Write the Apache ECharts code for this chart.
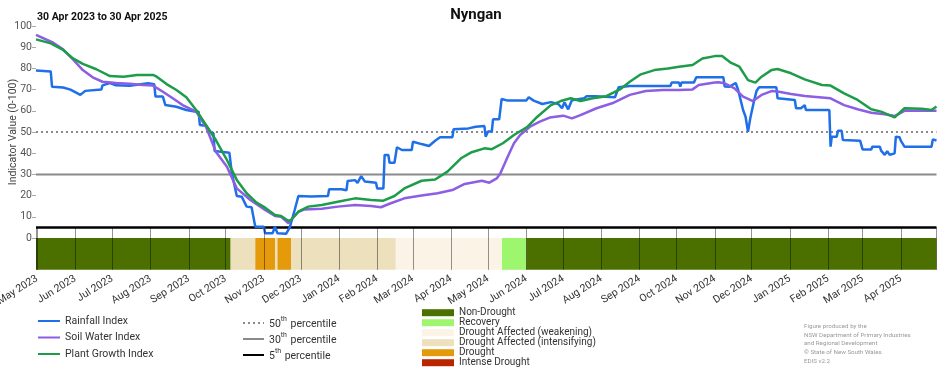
<!DOCTYPE html>
<html>
<head>
<meta charset="utf-8">
<script src="https://cdn.jsdelivr.net/npm/echarts@6/dist/echarts.min.js"></script>
<style>
html,body{margin:0;padding:0;background:#fff;}
#chart{width:952px;height:370px;}
</style>
</head>
<body>
<div id="chart"></div>
<script>
// ---------- DATA ----------
const startDate = '2023-04-30';
const endDate = '2025-04-30';
const titleText = 'Nyngan';
const subtitleText = '30 Apr 2023 to 30 Apr 2025';
const yAxisName = 'Indicator Value (0-100)';
const yTickLabels = [0, 10, 20, 30, 40, 50, 60, 70, 80, 90, 100];
const monthNames = ['Jan','Feb','Mar','Apr','May','Jun','Jul','Aug','Sep','Oct','Nov','Dec'];

const seriesNames = ['Rainfall Index', 'Soil Water Index', 'Plant Growth Index'];

const rainfall = [
  ['2023-04-30',79],['2023-05-12',78.5],['2023-05-13',71.4],['2023-05-22',71],['2023-05-28',70],
  ['2023-06-05',67.5],['2023-06-09',69.4],['2023-06-22',70],['2023-06-23',72],['2023-06-29',73.1],
  ['2023-07-04',72],['2023-07-15',71.8],['2023-07-30',73],['2023-08-04',72.5],['2023-08-05',66.7],
  ['2023-08-11',66.7],['2023-08-13',62.7],['2023-08-22',61.9],['2023-08-30',60.4],['2023-09-07',59.6],
  ['2023-09-09',59.6],['2023-09-10',53.3],['2023-09-15',53],['2023-09-19',49.7],['2023-09-21',49.5],
  ['2023-09-22',41],['2023-10-04',40.2],['2023-10-06',30.5],['2023-10-10',19.8],['2023-10-14',19.5],
  ['2023-10-18',14.8],['2023-10-22',14.5],['2023-10-25',5.3],['2023-11-01',5.3],['2023-11-02',2.2],
  ['2023-11-08',2.2],['2023-11-10',5.3],['2023-11-12',2.2],['2023-11-19',2],['2023-11-22',5],
  ['2023-11-26',13.2],['2023-11-29',19.8],['2023-12-09',19.6],['2023-12-23',19.8],['2023-12-24',23],
  ['2024-01-03',23],['2024-01-07',22.5],['2024-01-08',26.9],['2024-01-14',27.3],['2024-01-16',26],
  ['2024-01-19',29.2],['2024-01-22',26.6],['2024-01-31',26.1],['2024-02-01',23.4],['2024-02-06',23.4],
  ['2024-02-07',39.2],['2024-02-10',39.2],['2024-02-11',35.5],['2024-02-15',35.5],['2024-02-17',42.8],
  ['2024-02-21',41.5],['2024-02-29',41.5],['2024-03-01',45.4],['2024-03-08',44.3],['2024-03-14',43.4],
  ['2024-03-19',45.9],['2024-03-23',47.5],['2024-04-02',47.5],['2024-04-03',51.3],['2024-04-15',51.7],
  ['2024-04-21',52.5],['2024-04-28',52.8],['2024-04-29',47.8],['2024-05-01',50.2],['2024-05-04',50.2],
  ['2024-05-05',56],['2024-05-10',56],['2024-05-12',65.6],['2024-05-17',64.8],['2024-06-01',64.8],
  ['2024-06-03',66.4],['2024-06-07',64.8],['2024-06-14',63.2],['2024-06-21',64.1],['2024-06-27',63.2],
  ['2024-06-30',61.2],['2024-07-02',64],['2024-07-05',60.7],['2024-07-08',65],['2024-07-18',65.9],
  ['2024-07-20',66.9],['2024-07-27',66.9],['2024-07-28',66.4],['2024-08-12',66.4],['2024-08-15',71.1],
  ['2024-08-24',71.7],['2024-09-26',71.7],['2024-09-27',73.3],['2024-10-03',73.3],['2024-10-04',71.4],
  ['2024-10-05',73.3],['2024-10-15',73.3],['2024-10-17',75.8],['2024-11-08',75.8],['2024-11-09',71.5],
  ['2024-11-13',71.4],['2024-11-18',73.1],['2024-11-20',69.8],['2024-11-22',65.1],['2024-11-24',60.4],
  ['2024-11-26',57.2],['2024-11-28',50.1],['2024-11-30',57],['2024-12-03',65],['2024-12-05',69.5],
  ['2024-12-07',71.1],['2024-12-21',71.1],['2024-12-22',65.9],['2025-01-05',65.1],['2025-01-06',61.2],
  ['2025-01-10',61.2],['2025-01-13',62.7],['2025-01-14',60.4],['2025-02-02',60.4],['2025-02-03',43.1],
  ['2025-02-04',47.8],['2025-02-08',47.8],['2025-02-09',50.6],['2025-02-12',50.6],['2025-02-13',46.2],
  ['2025-02-27',45.9],['2025-03-01',41.8],['2025-03-08',41.8],['2025-03-09',43.1],['2025-03-15',43.1],
  ['2025-03-16',41.2],['2025-03-19',39.2],['2025-03-21',41],['2025-03-23',39.2],['2025-03-27',40],
  ['2025-03-28',47.8],['2025-03-31',47.5],['2025-04-01',45.9],['2025-04-04',43.1],['2025-04-26',43.1],
  ['2025-04-27',46.5],['2025-04-30',46]
];

const soilWater = [
  ['2023-04-30',95.8],['2023-05-14',92.1],['2023-05-22',89],['2023-05-30',84.3],['2023-06-07',79.2],
  ['2023-06-15',75.8],['2023-06-23',73.7],['2023-07-04',73.1],['2023-07-15',72.8],['2023-07-26',72.2],
  ['2023-08-03',71.9],['2023-08-11',69],['2023-08-19',65.9],['2023-08-27',62.7],['2023-09-07',59.6],
  ['2023-09-15',52.5],['2023-09-23',40.7],['2023-10-02',33.6],['2023-10-10',23.4],['2023-10-21',17.9],
  ['2023-11-02',13.2],['2023-11-10',10.4],['2023-11-15',10],['2023-11-21',6.9],['2023-11-23',8.5],
  ['2023-11-29',12.4],['2023-12-04',13.5],['2023-12-18',13.8],['2023-12-31',14.8],['2024-01-14',15.6],
  ['2024-01-27',15.1],['2024-02-04',14.5],['2024-02-12',16.4],['2024-02-23',18.7],['2024-03-08',20],
  ['2024-03-21',21.1],['2024-04-02',22.6],['2024-04-12',25.5],['2024-04-26',27],['2024-05-02',26.1],
  ['2024-05-08',28.1],['2024-05-11',30.5],['2024-05-17',38.4],['2024-05-22',44.7],['2024-05-27',48.6],
  ['2024-06-04',52.5],['2024-06-12',54.9],['2024-06-20',56.8],['2024-07-01',57.7],['2024-07-08',56.4],
  ['2024-07-15',58],['2024-07-28',61.2],['2024-08-11',63.8],['2024-08-24',67.5],['2024-09-06',69.3],
  ['2024-09-20',69.8],['2024-10-03',69.8],['2024-10-14',70.1],['2024-10-19',72.2],['2024-11-01',73.4],
  ['2024-11-04',73.5],['2024-11-09',73],['2024-11-17',70.6],['2024-11-24',66.7],['2024-12-02',64.6],
  ['2024-12-09',67.5],['2024-12-17',69.3],['2024-12-22',69.1],['2025-01-02',67.9],['2025-01-13',67],
  ['2025-02-03',65.9],['2025-02-14',62.7],['2025-02-25',60.7],['2025-03-08',59.1],['2025-03-19',58.4],
  ['2025-03-27',57.5],['2025-04-04',60],['2025-04-18',60],['2025-04-30',60]
];

const plantGrowth = [
  ['2023-04-30',93.7],['2023-05-12',91.8],['2023-05-22',88.7],['2023-05-30',84.7],['2023-06-07',82.1],
  ['2023-06-18',79.6],['2023-06-29',76.4],['2023-07-10',76.1],['2023-07-21',76.9],['2023-08-03',76.9],
  ['2023-08-06',76.1],['2023-08-14',72.6],['2023-08-22',69.8],['2023-08-30',66.4],['2023-09-07',60.4],
  ['2023-09-15',53.3],['2023-09-23',46.2],['2023-10-02',36.8],['2023-10-10',27.4],['2023-10-18',21.1],
  ['2023-10-26',16.7],['2023-11-02',14.3],['2023-11-10',10.8],['2023-11-15',10.4],['2023-11-21',8],
  ['2023-11-23',8.5],['2023-11-29',12.4],['2023-12-07',14.8],['2023-12-18',15.6],['2023-12-31',17.1],
  ['2024-01-14',18.7],['2024-01-27',17.9],['2024-02-06',17.6],['2024-02-15',19.8],['2024-02-23',23.4],
  ['2024-03-08',27],['2024-03-19',27.6],['2024-03-29',31.3],['2024-04-09',37.6],['2024-04-17',40.3],
  ['2024-04-28',42.3],['2024-05-04',41.9],['2024-05-13',44.7],['2024-05-22',48.6],['2024-06-02',52.5],
  ['2024-06-10',57.2],['2024-06-21',62.7],['2024-06-29',64.6],['2024-07-07',65.9],['2024-07-15',64.6],
  ['2024-07-25',65.9],['2024-08-05',66.9],['2024-08-16',70.1],['2024-08-24',73.7],['2024-09-02',77.2],
  ['2024-09-13',79.2],['2024-09-24',80],['2024-10-03',80.8],['2024-10-14',81.6],['2024-10-22',84.7],
  ['2024-11-01',85.8],['2024-11-07',85.8],['2024-11-14',82.7],['2024-11-21',80.8],['2024-11-28',74.5],
  ['2024-12-04',73.3],['2024-12-09',76.1],['2024-12-17',79.2],['2024-12-22',79.7],['2025-01-02',77.7],
  ['2025-01-13',74.8],['2025-01-27',72.2],['2025-02-03',71.9],['2025-02-14',68.2],['2025-02-25',65.1],
  ['2025-03-08',60.7],['2025-03-16',59.6],['2025-03-27',56.9],['2025-04-04',61.2],['2025-04-18',61],
  ['2025-04-26',60.4],['2025-04-30',62]
];

const percentileNames = ['50th percentile', '30th percentile', '5th percentile'];
const percentileValues = [50, 30, 5];

const droughtCategories = [
  'Non-Drought', 'Recovery', 'Drought Affected (weakening)',
  'Drought Affected (intensifying)', 'Drought', 'Intense Drought'
];
const droughtPeriods = [
  ['2023-04-30', '2023-10-05', 'Non-Drought'],
  ['2023-10-05', '2023-10-25', 'Drought Affected (intensifying)'],
  ['2023-10-25', '2023-11-10', 'Drought'],
  ['2023-11-10', '2023-11-12', 'Drought Affected (intensifying)'],
  ['2023-11-12', '2023-11-23', 'Drought'],
  ['2023-11-23', '2024-02-16', 'Drought Affected (intensifying)'],
  ['2024-02-16', '2024-05-12', 'Drought Affected (weakening)'],
  ['2024-05-12', '2024-06-01', 'Recovery'],
  ['2024-06-01', '2025-04-30', 'Non-Drought']
];

const footnoteLines = [
  'Figure produced by the',
  'NSW Department of Primary Industries',
  'and Regional Development',
  '\u00A9 State of New South Wales',
  'EDIS v2.2'
];

// ---------- STYLES ----------
const lineColors = ['#1f6fe8', '#8b5ee4', '#1d9c4a'];
const droughtColors = ['#4b7000', '#9ef56e', '#fcf3e7', '#ede0bd', '#e59a0b', '#ba2500'];
const percentileStyles = [
  { color: '#8a8a8a', width: 2, type: [2, 3] },
  { color: '#8a8a8a', width: 2, type: 'solid' },
  { color: '#000000', width: 2.5, type: 'solid' }
];
const FONT = 'Roboto, "Liberation Sans", sans-serif';

// ---------- BUILD ----------
const chart = echarts.init(document.getElementById('chart'), null, { renderer: 'canvas' });

const series = [];

percentileNames.forEach((n, i) => {
  series.push({
    name: n, type: 'line', xAxisIndex: 0, yAxisIndex: 0,
    data: [[startDate, percentileValues[i]], [endDate, percentileValues[i]]],
    symbol: 'none', silent: true,
    lineStyle: percentileStyles[i], itemStyle: { color: percentileStyles[i].color },
    z: 2
  });
});

[rainfall, soilWater, plantGrowth].forEach((d, i) => {
  series.push({
    name: seriesNames[i], type: 'line', xAxisIndex: 0, yAxisIndex: 0,
    data: d, symbol: 'none', smooth: false,
    lineStyle: { color: lineColors[i], width: 2.5 },
    itemStyle: { color: lineColors[i] },
    z: 3
  });
});

droughtCategories.forEach((cat, i) => {
  series.push({
    name: cat, type: 'custom', xAxisIndex: 1, yAxisIndex: 1,
    dimensions: [{ name: 's', type: 'time' }, { name: 'e', type: 'time' }],
    encode: { x: [0, 1] },
    data: droughtPeriods.filter(p => p[2] === cat).map(p => [p[0], p[1]]),
    itemStyle: { color: droughtColors[i] },
    renderItem: function (params, api) {
      const a = api.coord([api.value(0), 0]);
      const b = api.coord([api.value(1), -15]);
      return {
        type: 'rect',
        shape: { x: a[0], y: a[1], width: b[0] - a[0], height: b[1] - a[1] },
        style: { fill: api.visual('color') }
      };
    },
    z: 1
  });
});

const supRich = {
  n: { fontSize: 10.5, color: '#333', fontFamily: FONT, lineHeight: 14, verticalAlign: 'bottom' },
  s: { fontSize: 7, color: '#333', fontFamily: FONT, lineHeight: 14, verticalAlign: 'top', padding: [0, 1, 0, 0] }
};

const option = {
  animation: false,
  backgroundColor: '#ffffff',
  title: [
    { text: titleText, left: 'center', top: 8, padding: 0, textStyle: { fontSize: 15, fontWeight: 'bold', color: '#111', fontFamily: FONT } },
    { text: subtitleText, left: 37, top: 12, padding: 0, textStyle: { fontSize: 10.5, fontWeight: 'bold', color: '#111', fontFamily: FONT } }
  ],
  grid: [
    { left: 36, right: 15.5, top: 26, bottom: 132, outerBoundsMode: 'none', containLabel: false },
    { left: 36, right: 15.5, top: 227.4, bottom: 100.2, outerBoundsMode: 'none', containLabel: false }
  ],
  xAxis: [
    { type: 'time', gridIndex: 0, min: startDate, max: endDate, show: false },
    {
      type: 'time', gridIndex: 1, min: startDate, max: endDate,
      splitNumber: 24, minInterval: 28 * 86400000, maxInterval: 31 * 86400000,
      z: 5,
      axisLine: { show: false }, axisTick: { show: false },
      splitLine: { show: true, lineStyle: { color: 'rgba(0,0,0,0.42)', width: 1 } },
      axisLabel: {
        rotate: 32, margin: 8, fontSize: 10.5, color: '#333', fontFamily: FONT,
        formatter: function (v) { const d = new Date(v); return monthNames[d.getMonth()] + ' ' + d.getFullYear(); }
      }
    }
  ],
  yAxis: [
    {
      type: 'value', gridIndex: 0, min: 0, max: 100, interval: 10,
      axisLine: { show: false },
      axisTick: { show: true, inside: false, length: 4, lineStyle: { color: '#aaa' } },
      splitLine: { show: false },
      axisLabel: { fontSize: 10.5, color: '#555', margin: 4, fontFamily: FONT, customValues: yTickLabels }
    },
    {
      type: 'value', gridIndex: 1, min: -15, max: 5, show: false
    }
  ],
  legend: [
    {
      data: seriesNames, orient: 'vertical', left: 37, top: 314, padding: 0,
      itemWidth: 22, itemHeight: 14, itemGap: 2.5,
      itemStyle: { opacity: 0 },
      textStyle: { fontSize: 10.5, color: '#333', fontFamily: FONT, lineHeight: 14 }
    },
    {
      data: percentileNames, orient: 'vertical', left: 242, top: 316, padding: 0,
      itemWidth: 21, itemHeight: 14, itemGap: 2,
      itemStyle: { opacity: 0 },
      formatter: function (name) {
        const m = name.match(/^(\d+)(th)(.*)$/);
        return '{n|' + m[1] + '}{s|' + m[2] + '}{n|' + m[3] + '}';
      },
      textStyle: { fontSize: 10.5, color: '#333', fontFamily: FONT, rich: supRich }
    },
    {
      data: droughtCategories, orient: 'vertical', left: 422, top: 307.7, padding: 0,
      icon: 'rect', itemWidth: 32, itemHeight: 7, itemGap: 0,
      textStyle: { fontSize: 10, color: '#333', fontFamily: FONT, lineHeight: 9.6 }
    }
  ],
  graphic: [
    {
      type: 'text', x: 13, y: 132, rotation: Math.PI / 2,
      style: { text: yAxisName, fontSize: 10.5, fill: '#444', fontFamily: FONT, align: 'center', verticalAlign: 'middle' }
    },
    {
      type: 'text', left: 804, top: 322,
      style: { text: footnoteLines.join('\n'), fontSize: 6.2, lineHeight: 8.7, fill: '#9a9a9a', fontFamily: FONT }
    }
  ],
  series: series
};

chart.setOption(option);
</script>
</body>
</html>
